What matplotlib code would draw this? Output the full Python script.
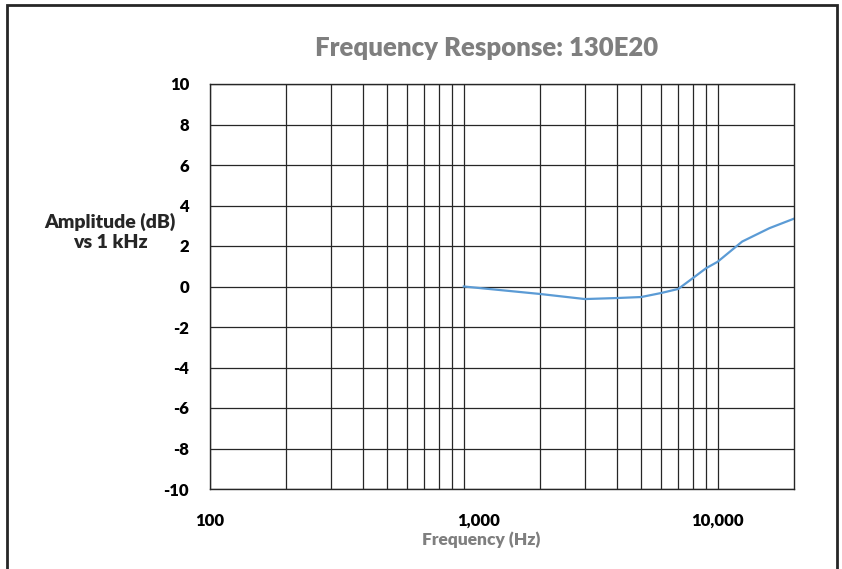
import matplotlib
matplotlib.use('Agg')
import matplotlib.pyplot as plt
from matplotlib.patches import Rectangle
from matplotlib.ticker import FixedLocator, NullFormatter
import matplotlib.transforms as mtransforms

# measured response, 130E20
freq = [1000, 2000, 3000, 4000, 5000, 6000, 7000, 8000, 9000, 10000, 12500, 16000, 20000]
amp_db = [0.0, -0.37, -0.62, -0.57, -0.52, -0.32, -0.12, 0.42, 0.9, 1.22, 2.22, 2.88, 3.35]

x_ticks = [100, 1000, 10000]
x_tick_labels = ['100', '1,000', '10,000']
y_ticks = list(range(-10, 11, 2))

plt.rcParams['font.family'] = ['Lato', 'DejaVu Sans']
plt.rcParams['axes.unicode_minus'] = False

fig = plt.figure(figsize=(8.42, 5.69), dpi=100)
ax = fig.add_axes([210/842, 1-489/569, (794-210)/842, (489-84)/569])

minor = [m * d for d in (100, 1000, 10000) for m in range(2, 10) if m * d < 20000]
ax.set_xscale('log')
ax.set_xlim(100, 20000)
ax.set_ylim(-10, 10)
ax.set_xticks(x_ticks)
ax.set_xticklabels(x_tick_labels)
ax.xaxis.set_minor_locator(FixedLocator(minor))
ax.xaxis.set_minor_formatter(NullFormatter())
ax.set_yticks(y_ticks)

ax.grid(True, which='both', axis='x', color='#262626', lw=0.9)
ax.grid(True, which='major', axis='y', color='#262626', lw=0.9)
ax.tick_params(which='both', length=0)
ax.tick_params(axis='y', pad=15, labelsize=12)
ax.tick_params(axis='x', pad=17, labelsize=12)
for lab in ax.get_xticklabels() + ax.get_yticklabels():
    lab.set_fontweight('heavy')
# the 1,000 label sits a bit right of its gridline in the original
lab1k = ax.get_xticklabels()[1]
lab1k.set_transform(lab1k.get_transform() + mtransforms.ScaledTranslation(15/100, 0, fig.dpi_scale_trans))
for s in ax.spines.values():
    s.set_color('#262626')
    s.set_linewidth(1.0)

ax.plot(freq, amp_db, color='#5B9BD5', lw=1.6)

fig.text(487/842, 1-48/569, 'Frequency Response: 130E20', ha='center', va='center',
         fontsize=18.5, fontweight='heavy', color='#7F7F7F')
fig.text(481/842, 1-540/569, 'Frequency (Hz)', ha='center', va='center',
         fontsize=12.5, fontweight='heavy', color='#7F7F7F')
fig.text(110/842, 1-232/569, 'Amplitude (dB)\nvs 1 kHz', ha='center', va='center',
         fontsize=14, fontweight='heavy', color='#262626', linespacing=1.2)

fig.patches.append(Rectangle((7/842, -0.05), (837-7)/842, 1.05-5/569, transform=fig.transFigure,
                             fill=False, edgecolor='#262626', lw=2))

fig.savefig('out.png', dpi=100)
